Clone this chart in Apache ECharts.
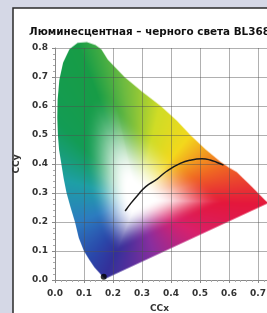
<!DOCTYPE html>
<html>
<head>
<meta charset="utf-8">
<script src="https://cdn.jsdelivr.net/npm/echarts@6/dist/echarts.min.js"></script>
<style>
html, body { margin: 0; padding: 0; background: #d5d8e6; }
#main { width: 267px; height: 313px; }
</style>
</head>
<body>
<div id="main"></div>
<script>
var titleText = 'Люминесцентная – черного света BL368';

// spectral locus outline, CCx / CCy
var locusX = [0.174, 0.173, 0.171, 0.167, 0.160, 0.150, 0.136, 0.118, 0.100, 0.082, 0.069, 0.054, 0.040, 0.030, 0.022, 0.014, 0.010, 0.008, 0.009, 0.015, 0.028, 0.050, 0.078, 0.110, 0.140, 0.160, 0.182, 0.240, 0.300, 0.365, 0.420, 0.467, 0.520, 0.570, 0.600, 0.627, 0.648, 0.666, 0.680, 0.692, 0.701, 0.708, 0.719, 0.726, 0.730, 0.733, 0.735];
var locusY = [0.005, 0.005, 0.006, 0.009, 0.017, 0.028, 0.044, 0.070, 0.100, 0.145, 0.200, 0.250, 0.300, 0.350, 0.400, 0.450, 0.500, 0.560, 0.620, 0.690, 0.750, 0.796, 0.818, 0.820, 0.810, 0.795, 0.760, 0.700, 0.650, 0.600, 0.550, 0.500, 0.450, 0.408, 0.388, 0.372, 0.351, 0.334, 0.320, 0.308, 0.299, 0.292, 0.281, 0.274, 0.270, 0.267, 0.265];

// black body curve
var curveX = [0.242, 0.262, 0.283, 0.313, 0.352, 0.385, 0.432, 0.470, 0.507, 0.535, 0.559, 0.581];
var curveY = [0.238, 0.265, 0.290, 0.322, 0.348, 0.375, 0.402, 0.414, 0.418, 0.414, 0.405, 0.396];

var dotPoint = [0.168, 0.011];
var whitePoint = [0.285, 0.275];

var axisMin = 0, axisMax = 0.8, axisStep = 0.1;

// colours around the white point, by angle in degrees
var hueAngles = [-160, -129, -113, -73, -30, -2, 22, 51, 77, 97, 111, 136, 165, 200];
var hueColors = ['#2c7cc0', '#2a48aa', '#33309a', '#8a2e9e', '#d8206c', '#e4173c', '#f06a22', '#f3d81c', '#cfdc26', '#6cba40', '#179c46', '#139c55', '#1e9fa6', '#2c7cc0'];

function hexRgb(h) {
    return [parseInt(h.substr(1, 2), 16), parseInt(h.substr(3, 2), 16), parseInt(h.substr(5, 2), 16)];
}
var hueRgb = hueColors.map(hexRgb);

function hueAt(a) {
    if (a < hueAngles[0]) a += 360;
    for (var i = 0; i < hueAngles.length - 1; i++) {
        if (a >= hueAngles[i] && a <= hueAngles[i + 1]) {
            var t = (a - hueAngles[i]) / (hueAngles[i + 1] - hueAngles[i]);
            var c0 = hueRgb[i], c1 = hueRgb[i + 1];
            return [c0[0] + (c1[0] - c0[0]) * t, c0[1] + (c1[1] - c0[1]) * t, c0[2] + (c1[2] - c0[2]) * t];
        }
    }
    return hueRgb[0];
}

// ratio of distance from white point to the locus along the ray
function edgeRatio(px, py) {
    var vx = px - whitePoint[0], vy = py - whitePoint[1];
    var best = Infinity;
    var n = locusX.length;
    for (var i = 0; i < n; i++) {
        var ax = locusX[i], ay = locusY[i];
        var bx = locusX[(i + 1) % n], by = locusY[(i + 1) % n];
        var ex = bx - ax, ey = by - ay;
        var den = vx * ey - vy * ex;
        if (Math.abs(den) < 1e-12) continue;
        var wx = ax - whitePoint[0], wy = ay - whitePoint[1];
        var t = (wx * ey - wy * ex) / den;
        var s = (wx * vy - wy * vx) / den;
        if (s >= 0 && s <= 1 && t > 0 && t < best) best = t;
    }
    return best === Infinity ? 1 : 1 / best;
}

var cache = null;
function buildImage(api) {
    var p0 = api.coord([0, 0]);
    var p1 = api.coord([0.8, 0.86]);
    var w = Math.round(p1[0] - p0[0]), h = Math.round(p0[1] - p1[1]);
    var key = w + 'x' + h;
    if (cache && cache.key === key) return cache;

    var colorCanvas = document.createElement('canvas');
    colorCanvas.width = w; colorCanvas.height = h;
    var cctx = colorCanvas.getContext('2d');
    var img = cctx.createImageData(w, h);
    for (var j = 0; j < h; j++) {
        var dy = 0.86 * (1 - (j + 0.5) / h);
        for (var i = 0; i < w; i++) {
            var dx = 0.8 * (i + 0.5) / w;
            var ang = Math.atan2(dy - whitePoint[1], dx - whitePoint[0]) * 180 / Math.PI;
            var r = edgeRatio(dx, dy);
            var t = Math.max(0, Math.min(1, (r - 0.12) / 0.55));
            var f = t * t * (3 - 2 * t);
            var hc = hueAt(ang);
            var k = (j * w + i) * 4;
            img.data[k] = 255 + (hc[0] - 255) * f;
            img.data[k + 1] = 255 + (hc[1] - 255) * f;
            img.data[k + 2] = 255 + (hc[2] - 255) * f;
            img.data[k + 3] = 255;
        }
    }
    cctx.putImageData(img, 0, 0);

    var canvas = document.createElement('canvas');
    canvas.width = w; canvas.height = h;
    var ctx = canvas.getContext('2d');
    ctx.beginPath();
    for (var n = 0; n < locusX.length; n++) {
        var q = api.coord([locusX[n], locusY[n]]);
        var cx = q[0] - p0[0], cy = q[1] - p1[1];
        if (n === 0) ctx.moveTo(cx, cy); else ctx.lineTo(cx, cy);
    }
    ctx.closePath();
    ctx.fillStyle = '#000';
    ctx.fill();
    ctx.globalCompositeOperation = 'source-in';
    ctx.drawImage(colorCanvas, 0, 0);

    cache = { key: key, canvas: canvas, x: p0[0], y: p1[1], w: w, h: h };
    return cache;
}

var myChart = echarts.init(document.getElementById('main'));

var labelStyle = { fontSize: 9, fontWeight: 'bold', color: '#333', fontFamily: 'DejaVu Sans' };

var option = {
    backgroundColor: '#d5d8e6',
    animation: false,
    title: {
        text: titleText,
        left: 24,
        top: 22,
        textStyle: { fontSize: 10.4, fontWeight: 'bold', color: '#111', fontFamily: 'DejaVu Sans' }
    },
    graphic: [{
        type: 'rect',
        z: -100,
        shape: { x: 13, y: 8, width: 400, height: 400 },
        style: { fill: '#ffffff', stroke: '#2a2a2a', lineWidth: 1.5 }
    }, {
        type: 'text',
        left: 150,
        top: 304,
        style: { text: 'CCx', font: 'bold 9px "DejaVu Sans"', fill: '#333' }
    }],
    grid: { left: 55, top: 48, right: -20, bottom: 33, containLabel: false, outerBoundsMode: 'none' },
    xAxis: {
        type: 'value',
        min: axisMin, max: axisMax, interval: axisStep,
        z: 3,
        axisLine: { lineStyle: { color: '#888', width: 1 } },
        axisTick: { show: true, length: 3, lineStyle: { color: '#888' } },
        minorTick: { show: true, splitNumber: 5, length: 2, lineStyle: { color: '#aaa' } },
        splitLine: { show: true, lineStyle: { color: 'rgba(80,80,80,0.45)', width: 1 } },
        axisLabel: Object.assign({ margin: 9, formatter: function (v) { return v.toFixed(1); } }, labelStyle)
    },
    yAxis: {
        type: 'value',
        min: axisMin, max: axisMax, interval: axisStep,
        z: 3,
        name: 'CCy',
        nameLocation: 'middle',
        nameGap: 24,
        nameTextStyle: labelStyle,
        axisLine: { show: true, lineStyle: { color: '#888', width: 1 } },
        axisTick: { show: true, length: 3, lineStyle: { color: '#888' } },
        minorTick: { show: true, splitNumber: 5, length: 2, lineStyle: { color: '#aaa' } },
        splitLine: { show: true, lineStyle: { color: 'rgba(80,80,80,0.45)', width: 1 } },
        axisLabel: Object.assign({ margin: 7, formatter: function (v) { return v.toFixed(1); } }, labelStyle)
    },
    series: [{
        type: 'custom',
        z: 1,
        silent: true,
        clip: false,
        data: [[0, 0]],
        renderItem: function (params, api) {
            var im = buildImage(api);
            return {
                type: 'image',
                style: { image: im.canvas, x: im.x, y: im.y, width: im.w, height: im.h }
            };
        }
    }, {
        type: 'line',
        z: 4,
        smooth: true,
        symbol: 'none',
        data: curveX.map(function (x, i) { return [x, curveY[i]]; }),
        lineStyle: { color: '#1a1a1a', width: 1.5 }
    }, {
        type: 'scatter',
        z: 5,
        symbolSize: 6,
        data: [dotPoint],
        itemStyle: { color: '#000' }
    }]
};
myChart.setOption(option);
</script>
</body>
</html>
